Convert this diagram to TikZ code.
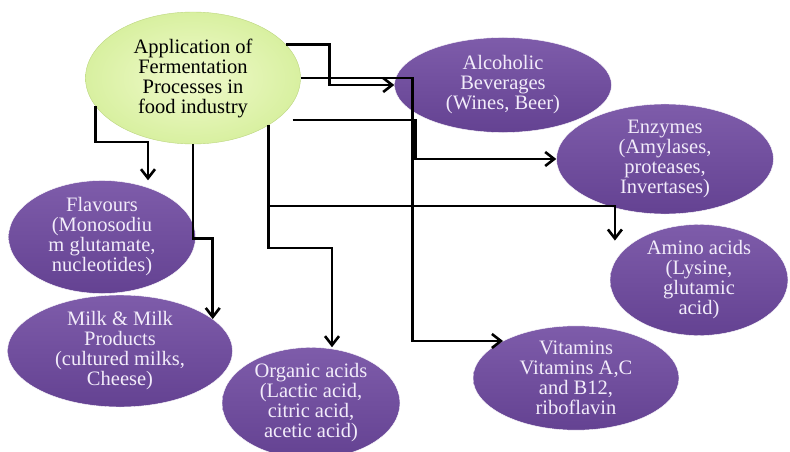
\documentclass[tikz,border=0pt]{standalone}
\usepackage{fontspec}
\setmainfont{Liberation Serif}
\usepackage{tikz}
\usetikzlibrary{positioning, arrows.meta, shapes.geometric}
\definecolor{purpletop}{RGB}{126,92,170}
\definecolor{purplebot}{RGB}{100,66,146}
\definecolor{leafin}{RGB}{240,250,204}
\definecolor{leafout}{RGB}{216,240,160}
\definecolor{leafline}{RGB}{188,214,128}
\definecolor{paletext}{RGB}{242,236,250}
\tikzset{%
	>={Straight Barb[length=9pt, width=14pt]},
	link/.style = {line width = 2.6pt, ->},
	root/.style = {name = #1, ellipse, inner sep = 0pt, inner color = leafin, outer color = leafout, draw = leafline, align = center, font = \fontsize{20.5}{20}\selectfont},
	prod/.style = {name = #1, ellipse, inner sep = 0pt, top color = purpletop, bottom color = purplebot, draw = white, text = paletext, align = center, font = \fontsize{20.5}{20}\selectfont}
}
\begin{document}
\begin{tikzpicture}[x=1pt, y=-1pt]
			\useasboundingbox (0,0) rectangle (790,452);
			\node [root = {app}, minimum width = 215, minimum height = 132] at (193,78) {Application of\\Fermentation\\Processes in\\food industry};
			\node [prod = {alc}, minimum width = 217, minimum height = 95] at (503,85) {Alcoholic\\Beverages\\(Wines, Beer)};
			\node [prod = {enz}, minimum width = 217, minimum height = 92] at (665,159) {Enzymes\\(Amylases,\\proteases,\\Invertases)};
			\node [prod = {amino}, minimum width = 178, minimum height = 94] at (699,280) {Amino acids\\(Lysine,\\glutamic\\acid)};
			\node [prod = {vit}, minimum width = 206, minimum height = 95] at (576,378) {Vitamins\\Vitamins A,C\\and B12,\\riboflavin};
			\node [prod = {flav}, minimum width = 187, minimum height = 113] at (102,237) {Flavours\\(Monosodiu\\m glutamate,\\nucleotides)};
			\node [prod = {milk}, minimum width = 225, minimum height = 112] at (120,351) {Milk \& Milk\\Products\\(cultured milks,\\Cheese)};
			\node [prod = {org}, minimum width = 178, minimum height = 100] at (311,403) {Organic acids\\(Lactic acid,\\citric acid,\\acetic acid)};
			% connectors
			\draw [link] (app.20) -- ++(44,0) |- (alc.west);
			\draw [link] (app.east) -- ++(112,0) |- (vit.north west);
			\draw [link] ([shift={(-8,42)}]app.east) -- ++(123,0) |- (enz.west);
			\draw [link] (app.196) -- ++(0,36) -| ([xshift=46]flav.north);
			\draw [link] (app.south) -- ++(0,94) -| (milk.19);
			\draw [link] (app.-32) -- ++(0,123) -| ([xshift=21]org.north);
			\draw [link] (app.-32) -- ++(0,81) -| ([xshift=-21]amino.north west);
\end{tikzpicture}
\end{document}
